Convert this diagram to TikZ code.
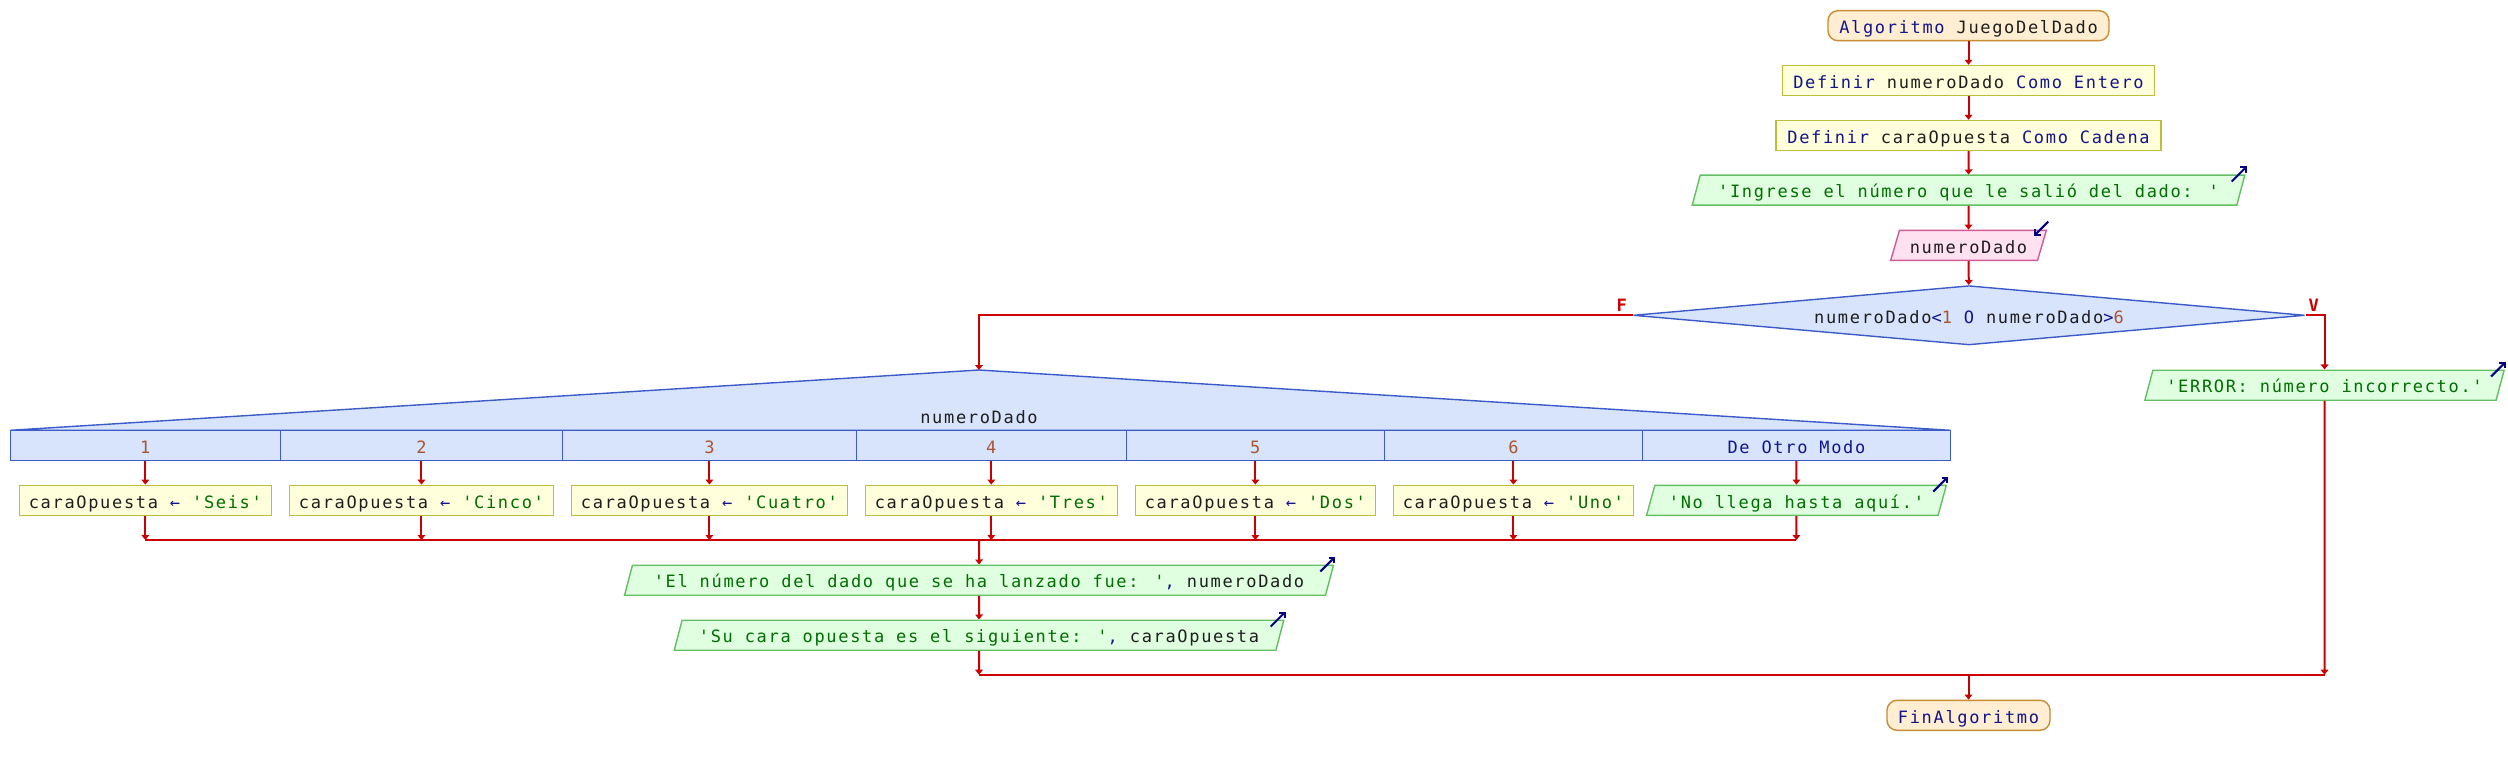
\documentclass[tikz,border=0pt]{standalone}
\usepackage{fontspec}
\usetikzlibrary{shapes.geometric,arrows.meta}
\newfontfamily\pmono{DejaVu Sans Mono}[LetterSpace=9.8,Ligatures=TeXOff]
\newcommand\pfont{\pmono\fontsize{8.5pt}{10pt}\selectfont}
\definecolor{termF}{RGB}{255,238,210}
\definecolor{termD}{RGB}{200,140,50}
\definecolor{procF}{RGB}{255,255,220}
\definecolor{procD}{RGB}{190,190,60}
\definecolor{outF}{RGB}{224,255,224}
\definecolor{outD}{RGB}{100,190,100}
\definecolor{inpF}{RGB}{255,225,240}
\definecolor{inpD}{RGB}{210,90,150}
\definecolor{caseF}{RGB}{216,228,252}
\definecolor{caseD}{RGB}{60,90,200}
\definecolor{flowC}{RGB}{204,0,0}
\definecolor{kwC}{RGB}{20,20,140}
\definecolor{stC}{RGB}{0,110,0}
\definecolor{nmC}{RGB}{170,85,50}
\definecolor{idC}{RGB}{30,30,30}
\definecolor{iconC}{RGB}{0,0,128}
\newcommand\pkw[1]{\textcolor{kwC}{#1}}
\newcommand\pst[1]{\textcolor{stC}{#1}}
\newcommand\pnm[1]{\textcolor{nmC}{#1}}
\tikzset{
  base/.style={font=\pfont, text=idC, inner sep=0pt, text height=8.5pt, text depth=0.8pt, line width=0.7pt, minimum height=15pt},
  term/.style={base, draw=termD, fill=termF, rounded corners=5pt},
  proc/.style={base, draw=procD, fill=procF},
  outp/.style={base, trapezium, trapezium left angle=68.2, trapezium right angle=111.8, trapezium stretches=true, draw=outD, fill=outF},
  inp/.style={base, trapezium, trapezium left angle=68.2, trapezium right angle=111.8, trapezium stretches=true, draw=inpD, fill=inpF},
  dec/.style={base, diamond, aspect=11.33, draw=caseD, fill=caseF, minimum width=335.8pt, minimum height=29.65pt},
  cell/.style={base, draw=caseD, fill=caseF},
  casesh/.style={draw=caseD, fill=caseF, line width=0.7pt},
  flow/.style={draw=flowC, line width=1pt, -{Triangle[length=2.5pt,width=3.8pt]}},
  mline/.style={draw=flowC, line width=1pt},
  lab/.style={font=\pfont\bfseries, text=flowC, inner sep=0pt, anchor=base},
  icon/.style={draw=iconC, line width=1pt, -{Straight Barb[length=2pt,width=4pt]}},
}
\begin{document}
\begin{tikzpicture}[x=0.5pt,y=-0.5pt]
\useasboundingbox (0,0) rectangle (2508,765);
% main column
\node[term, minimum width=140.5pt] (start) at (1968.5,25.7) {\pkw{Algoritmo} JuegoDelDado};
\node[proc, minimum width=186.2pt] (d1) at (1968.5,80.5) {\pkw{Definir} numeroDado \pkw{Como Entero}};
\node[proc, minimum width=192.4pt] (d2) at (1968.5,135.5) {\pkw{Definir} caraOpuesta \pkw{Como Cadena}};
\node[outp, minimum width=276.5pt] (o0) at (1968.5,190.2) {\pst{'Ingrese el número que le salió del dado: '}};
\node[inp, minimum width=78pt] (i0) at (1968.5,245.3) {numeroDado};
\node[dec] (q) at (1969,315.3) {numeroDado\pkw{<}\pnm{1} \pkw{O} numeroDado\pkw{>}\pnm{6}};
\node[outp, minimum width=180pt] (err) at (2324.5,385.2) {\pst{'ERROR: número incorrecto.'}};
\node[lab] (fl) at (1621.7,311) {F};
\node[lab] (vl) at (2313.8,311) {V};
% case
\coordinate (apex) at (979,370);
\coordinate (cl) at (10.3,430.3);
\coordinate (cr) at (1950.5,430.3);
\path[casesh] (apex) -- (cl) -- (cr) -- cycle;
\node[base] (sel) at (979,415.5) {numeroDado};
\node[cell, minimum width=135.05pt] (c1) at (145.35,445.3) {\pnm{1}};
\node[cell, minimum width=141.05pt] (c2) at (421.45,445.3) {\pnm{2}};
\node[cell, minimum width=146.9pt] (c3) at (709.4,445.3) {\pnm{3}};
\node[cell, minimum width=135pt] (c4) at (991.3,445.3) {\pnm{4}};
\node[cell, minimum width=129.05pt] (c5) at (1255.35,445.3) {\pnm{5}};
\node[cell, minimum width=129pt] (c6) at (1513.4,445.3) {\pnm{6}};
\node[cell, minimum width=154.05pt] (c7) at (1796.45,445.3) {\pkw{De Otro Modo}};
\node[proc, minimum width=125.9pt] (a1) at (145.35,500.3) {caraOpuesta \pkw{←} \pst{'Seis'}};
\node[proc, minimum width=131.95pt] (a2) at (421.45,500.3) {caraOpuesta \pkw{←} \pst{'Cinco'}};
\node[proc, minimum width=138.2pt] (a3) at (709.4,500.3) {caraOpuesta \pkw{←} \pst{'Cuatro'}};
\node[proc, minimum width=125.9pt] (a4) at (991.3,500.3) {caraOpuesta \pkw{←} \pst{'Tres'}};
\node[proc, minimum width=120.05pt] (a5) at (1255.35,500.3) {caraOpuesta \pkw{←} \pst{'Dos'}};
\node[proc, minimum width=120pt] (a6) at (1513.4,500.3) {caraOpuesta \pkw{←} \pst{'Uno'}};
\node[outp, minimum width=150pt] (a7) at (1796.45,500.3) {\pst{'No llega hasta aquí.'}};
% joins
\coordinate (j1) at (145.35,540);
\coordinate (j2) at (421.45,540);
\coordinate (j3) at (709.4,540);
\coordinate (j4) at (991.3,540);
\coordinate (j5) at (1255.35,540);
\coordinate (j6) at (1513.4,540);
\coordinate (j7) at (1796.45,540);
\coordinate (jc) at (979,540);
\node[outp, minimum width=354.5pt] (o1) at (979,580.2) {\pst{'El número del dado que se ha lanzado fue: '}\pkw{,} numeroDado};
\node[outp, minimum width=306pt] (o2) at (979,635.2) {\pst{'Su cara opuesta es el siguiente: '}\pkw{,} caraOpuesta};
\coordinate (k1) at (979,674.7);
\coordinate (k2) at (2324.5,674.7);
\coordinate (kc) at (1968.5,674.7);
\node[term, minimum width=81.5pt] (fin) at (1968.5,715.3) {\pkw{FinAlgoritmo}};
% connectors
\draw[flow] (start) -- (d1);
\draw[flow] (d1) -- (d2);
\draw[flow] (d2) -- (o0);
\draw[flow] (o0) -- (i0);
\draw[flow] (i0) -- (q);
\draw[flow] (q.west) -- (apex |- q.west) -- (apex);
\draw[flow] (q.east) -- (err.north |- q.east) -- (err.north);
\foreach \i in {1,...,7}{
  \draw[flow] (c\i.south) -- (a\i.north);
  \draw[flow] (a\i.south) -- (j\i);
}
\draw[mline] (j1) -- (j7);
\draw[flow] (jc) -- (o1.north);
\draw[flow] (o1.south) -- (o2.north);
\draw[flow] (o2.south) -- (k1);
\draw[flow] (err.south) -- (k2);
\draw[mline] (k1) -- (k2);
\draw[flow] (kc) -- (fin.north);
% icons
\foreach \n in {o0,err,a7,o1,o2}{
  \draw[icon] ([shift={(-14,7)}]\n.top right corner) -- ([shift={(1,-8)}]\n.top right corner);
}
\draw[icon] ([shift={(1,-8)}]i0.top right corner) -- ([shift={(-13,6)}]i0.top right corner);
\end{tikzpicture}
\end{document}
